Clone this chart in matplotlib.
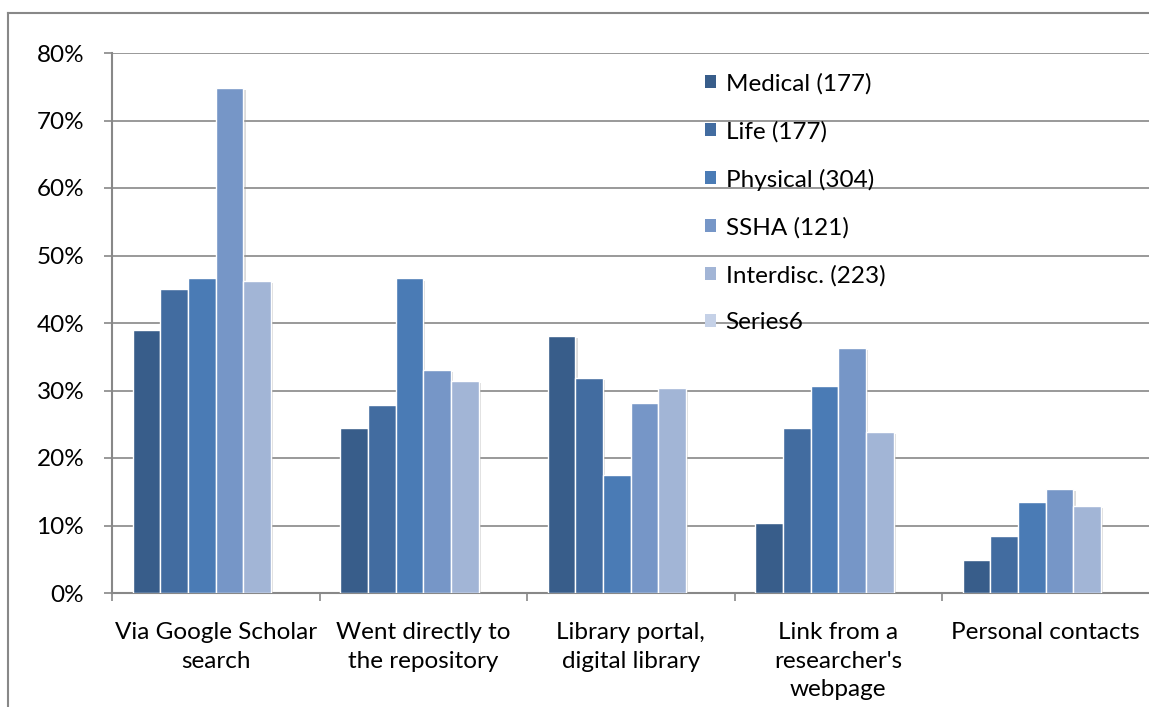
import numpy as np
import matplotlib
matplotlib.use("Agg")
import matplotlib.pyplot as plt
from matplotlib.lines import Line2D
from matplotlib.ticker import PercentFormatter, FixedLocator
import matplotlib.patheffects as pe

plt.rcParams['font.family'] = ['Lato', 'DejaVu Sans']

# data (percent of respondents)
categories = ["Via Google Scholar\nsearch", "Went directly to\nthe repository",
              "Library portal,\ndigital library", "Link from a\nresearcher's\nwebpage",
              "Personal contacts"]
series_names = ["Medical (177)", "Life (177)", "Physical (304)", "SSHA (121)",
                "Interdisc. (223)", "Series6"]
medical = [38.9, 24.5, 38.1, 10.3, 4.9]
life = [45.0, 27.8, 31.9, 24.5, 8.5]
physical = [46.7, 46.6, 17.5, 30.7, 13.5]
ssha = [74.8, 33.1, 28.1, 36.3, 15.4]
interdisc = [46.2, 31.4, 30.4, 23.9, 12.9]
series6 = [np.nan, np.nan, np.nan, np.nan, np.nan]  # empty series, legend only

colors = ["#385d8a", "#426ca0", "#4a7bb5", "#7696c7", "#a2b5d6", "#c5d1e7"]
grey = "#888888"

fig = plt.figure(figsize=(11.49, 7.07), dpi=100)
ax = fig.add_axes([112 / 1149, 1 - 593 / 707, 1037.5 / 1149, 540 / 707])

x = np.arange(len(categories))
w = 1 / 7.5
all_series = [medical, life, physical, ssha, interdisc, series6]
handles = []
for i, (vals, name, c) in enumerate(zip(all_series, series_names, colors)):
    bars = ax.bar(x + (i - 2.5) * w, vals, width=w, color=c, edgecolor="white",
                  linewidth=1.0, label=name, zorder=3)
    for b in bars:
        b.set_path_effects([pe.SimplePatchShadow(offset=(1.5, -1.5), shadow_rgbFace="#999999",
                                                 alpha=0.35), pe.Normal()])
    handles.append(bars)

ax.set_ylim(0, 80)
ax.set_xlim(-0.5, len(categories) - 0.5)
ax.yaxis.set_major_locator(FixedLocator(np.arange(0, 81, 10)))
ax.yaxis.set_major_formatter(PercentFormatter(xmax=100, decimals=0))
ax.grid(axis="y", color=grey, linewidth=1.2, zorder=0)
ax.set_axisbelow(True)

# category boundaries get the tick marks, labels sit in the middle
ax.set_xticks(np.arange(-0.5, len(categories), 1.0))
ax.set_xticklabels([])
ax.set_xticks(x, minor=True)
ax.set_xticklabels(categories, minor=True, fontsize=17.5, linespacing=1.45)
ax.tick_params(axis="x", which="major", length=6, width=1.2, color=grey)
ax.tick_params(axis="x", which="minor", length=0, pad=21)
ax.tick_params(axis="y", length=6, width=1.2, color=grey, labelsize=17.5, pad=14)

for side in ["top", "right"]:
    ax.spines[side].set_visible(False)
for side in ["left", "bottom"]:
    ax.spines[side].set_color(grey)
    ax.spines[side].set_linewidth(1.5)

leg = fig.legend(handles=[h[0] for h in handles], labels=series_names,
                 loc="upper left", bbox_to_anchor=(705 / 1149, 1 - 73 / 707),
                 frameon=False, fontsize=17.5, handlelength=0.45, handleheight=0.45,
                 handletextpad=0.4, labelspacing=1.08, borderpad=0, borderaxespad=0)
for h in leg.legend_handles:
    h.set_path_effects([])
    h.set_edgecolor("none")

# outer chart border (only left and top visible in the crop)
fig.add_artist(Line2D([7.5 / 1149, 7.5 / 1149], [0, 1 - 13 / 707], color=grey, linewidth=1.5))
fig.add_artist(Line2D([7.5 / 1149, 1], [1 - 13 / 707, 1 - 13 / 707], color=grey, linewidth=1.5))

fig.savefig("out.png", dpi=100)
